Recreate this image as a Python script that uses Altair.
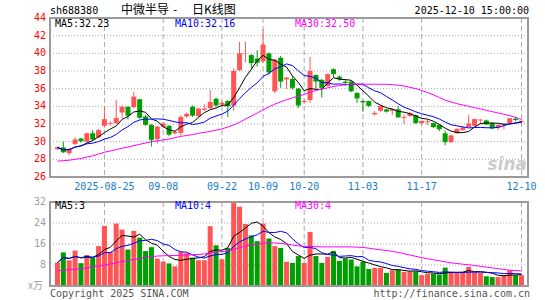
import altair as alt
import pandas as pd

# ---------------- data ----------------
dates = [
    "2025-08-13", "2025-08-14", "2025-08-15", "2025-08-18", "2025-08-19", "2025-08-20", "2025-08-21", "2025-08-22",
    "2025-08-25", "2025-08-26", "2025-08-27", "2025-08-28", "2025-08-29",
    "2025-09-01", "2025-09-02", "2025-09-03", "2025-09-04", "2025-09-05",
    "2025-09-08", "2025-09-09", "2025-09-10", "2025-09-11", "2025-09-12",
    "2025-09-15", "2025-09-16", "2025-09-17", "2025-09-18", "2025-09-19",
    "2025-09-22", "2025-09-23", "2025-09-24", "2025-09-25", "2025-09-26",
    "2025-09-29", "2025-09-30", "2025-10-09", "2025-10-10",
    "2025-10-13", "2025-10-14", "2025-10-15", "2025-10-16", "2025-10-17",
    "2025-10-20", "2025-10-21", "2025-10-22", "2025-10-23", "2025-10-24",
    "2025-10-27", "2025-10-28", "2025-10-29", "2025-10-30", "2025-10-31",
    "2025-11-03", "2025-11-04", "2025-11-05", "2025-11-06", "2025-11-07",
    "2025-11-10", "2025-11-11", "2025-11-12", "2025-11-13", "2025-11-14",
    "2025-11-17", "2025-11-18", "2025-11-19", "2025-11-20", "2025-11-21",
    "2025-11-24", "2025-11-25", "2025-11-26", "2025-11-27", "2025-11-28",
    "2025-12-01", "2025-12-02", "2025-12-03", "2025-12-04", "2025-12-05",
    "2025-12-08", "2025-12-09", "2025-12-10",
]

opens = [
    29.15, 29.35, 28.7, 29.75, 30.35, 30.0, 30.95, 30.5, 31.8, 32.0,
    32.1, 33.3, 33.95, 33.9, 34.8, 32.85, 31.9, 30.3, 31.7, 31.8,
    30.95, 31.0, 32.85, 33.95, 32.9, 33.6, 33.8, 34.85, 34.2, 34.6,
    34.1, 38.1, 39.95, 39.8, 39.4, 39.1, 40.0, 35.7, 39.5, 37.05,
    37.1, 36.0, 34.5, 34.7, 37.55, 37.0, 36.3, 38.2, 37.35, 36.8,
    36.8, 35.5, 34.6, 34.6, 33.1, 33.5, 33.65, 33.5, 33.65, 32.7,
    32.9, 33.0, 32.1, 32.2, 32.1, 31.9, 30.95, 29.95, 30.95, 31.3,
    31.65, 31.8, 32.4, 32.4, 32.1, 31.6, 31.9, 32.1, 32.6, 32.25,
]
highs = [
    29.45, 30.0, 29.3, 30.5, 30.45, 31.0, 31.3, 31.45, 34.05, 32.3,
    34.7, 34.1, 34.0, 35.65, 34.85, 33.0, 32.0, 31.8, 32.2, 31.9,
    31.3, 33.0, 33.3, 34.1, 33.85, 34.25, 35.85, 35.0, 34.6, 34.7,
    38.3, 41.3, 41.3, 39.9, 40.35, 42.7, 40.1, 39.4, 39.7, 37.3,
    37.4, 36.1, 34.8, 39.6, 37.6, 37.1, 37.7, 38.3, 37.5, 37.0,
    36.9, 35.6, 34.7, 34.65, 33.45, 34.1, 33.7, 33.75, 34.05, 33.1,
    33.35, 33.05, 32.4, 32.45, 32.15, 31.95, 31.25, 30.75, 31.5, 31.7,
    33.0, 32.6, 32.55, 32.5, 32.15, 31.95, 32.05, 32.7, 32.85, 32.4,
]
lows = [
    29.05, 28.7, 28.45, 29.6, 29.9, 29.9, 30.1, 30.4, 31.6, 31.8,
    32.0, 32.7, 32.5, 33.8, 32.6, 31.8, 29.45, 29.8, 31.5, 30.6,
    30.8, 30.7, 32.7, 32.8, 32.8, 33.5, 33.6, 33.95, 34.0, 32.8,
    33.5, 38.0, 39.0, 38.3, 38.5, 38.9, 37.6, 35.5, 36.1, 36.0,
    35.9, 33.8, 34.3, 34.4, 36.0, 35.0, 36.2, 37.3, 36.9, 36.3,
    35.6, 34.4, 33.4, 33.9, 32.95, 33.4, 33.3, 33.0, 32.7, 32.0,
    32.8, 32.0, 31.95, 31.9, 31.55, 31.2, 29.6, 29.85, 30.9, 31.2,
    31.6, 31.75, 32.0, 31.9, 31.4, 31.3, 31.4, 32.05, 32.3, 31.95,
]
closes = [
    29.35, 28.8, 29.15, 30.25, 30.05, 30.95, 30.25, 31.3, 32.55, 32.1,
    32.7, 33.95, 32.95, 35.1, 32.7, 31.9, 30.2, 31.7, 32.05, 30.8,
    31.1, 32.8, 33.15, 32.95, 33.75, 33.75, 34.5, 34.1, 34.4, 34.0,
    38.0, 40.0, 40.0, 38.9, 38.95, 41.0, 37.85, 39.3, 36.8, 37.25,
    36.1, 34.1, 34.6, 38.0, 36.8, 36.1, 37.65, 37.65, 37.1, 36.65,
    35.7, 34.9, 34.45, 34.05, 33.25, 34.05, 33.4, 33.7, 32.75, 32.8,
    33.2, 32.1, 32.35, 32.3, 31.65, 31.4, 29.95, 30.7, 31.45, 31.6,
    32.05, 32.55, 32.5, 31.95, 31.5, 31.9, 32.0, 32.65, 32.45, 32.35,
]
volumes = [
    8.9, 12.8, 9.8, 13.5, 8.7, 11.8, 10.8, 15.2, 22.9, 13.0,
    23.8, 21.5, 13.9, 21.0, 18.4, 13.3, 14.8, 10.4, 9.3, 8.6,
    7.5, 13.0, 12.5, 10.8, 9.8, 9.8, 22.8, 15.5, 10.2, 14.5,
    31.8, 30.2, 23.6, 19.3, 17.1, 23.8, 18.1, 15.2, 14.5, 9.2,
    8.8, 11.4, 8.8, 20.6, 11.4, 8.8, 11.1, 13.3, 9.6, 10.5,
    10.1, 7.5, 9.2, 6.5, 6.9, 6.9, 5.0, 6.0, 6.3, 5.4,
    5.6, 5.6, 4.1, 4.7, 4.7, 4.4, 7.0, 5.0, 5.0, 5.0,
    7.3, 5.0, 5.0, 3.7, 3.4, 3.4, 4.1, 6.0, 4.1, 4.1,
]
# 30-day averages as drawn (they need history before the window)
ma30_price = [
    27.8, 27.85, 27.9, 28.0, 28.1, 28.25, 28.4, 28.6, 28.8, 28.95,
    29.1, 29.25, 29.4, 29.55, 29.7, 29.85, 30.0, 30.1, 30.2, 30.3,
    30.45, 30.6, 30.7, 30.8, 30.95, 31.05, 31.15, 31.3, 31.45, 31.65,
    31.9, 32.2, 32.55, 32.9, 33.25, 33.6, 33.95, 34.25, 34.5, 34.75,
    34.95, 35.15, 35.35, 35.6, 35.8, 35.95, 36.1, 36.25, 36.35, 36.45,
    36.5, 36.5, 36.5, 36.5, 36.5, 36.5, 36.5, 36.45, 36.4, 36.3,
    36.15, 36.0, 35.8, 35.55, 35.3, 35.0, 34.7, 34.5, 34.3, 34.15,
    34.0, 33.85, 33.7, 33.55, 33.4, 33.25, 33.1, 32.95, 32.75, 32.5,
]
ma30_volume = [
    5.8, 6.0, 6.2, 6.4, 6.6, 6.9, 7.2, 7.6, 8.0, 8.4,
    8.9, 9.3, 9.7, 10.1, 10.5, 10.9, 11.2, 11.4, 11.5, 11.6,
    11.6, 11.7, 11.8, 11.9, 12.0, 12.2, 12.6, 12.9, 13.1, 13.4,
    13.9, 14.6, 15.2, 15.6, 15.9, 16.3, 16.5, 16.4, 16.2, 16.0,
    15.6, 15.3, 15.0, 15.0, 15.0, 14.9, 14.9, 14.9, 14.9, 14.9,
    14.9, 14.8, 14.7, 14.4, 14.1, 13.8, 13.5, 13.2, 12.8, 12.3,
    11.8, 11.3, 10.8, 10.4, 10.0, 9.6, 9.2, 8.8, 8.6, 8.3,
    8.1, 7.8, 7.5, 7.2, 6.9, 6.6, 6.3, 6.0, 5.9, 5.7,
]
tick_dates = ["2025-08-25", "2025-09-08", "2025-09-22", "2025-10-09",
              "2025-10-20", "2025-11-03", "2025-11-17", "2025-12-10"]
tick_labels = ["2025-08-25", "09-08", "09-22", "10-09", "10-20", "11-03", "11-17", "12-10"]
price_ticks = [26, 28, 30, 32, 34, 36, 38, 40, 42, 44]
volume_ticks = [8, 16, 24, 32]

# ---------------- tables ----------------
df = pd.DataFrame({
    "i": list(range(len(dates))), "date": dates,
    "open": opens, "high": highs, "low": lows, "close": closes,
    "vol": volumes, "ma30": ma30_price, "vma30": ma30_volume,
})
df["dir"] = ["up" if c >= o else "down" for o, c in zip(opens, closes)]
ticks_df = pd.DataFrame({"i": [dates.index(d) for d in tick_dates], "label": tick_labels})
pt_df = pd.DataFrame({"v": price_ticks})
vt_df = pd.DataFrame({"v": volume_ticks})
one = pd.DataFrame({"k": [0]})

# ---------------- layout constants ----------------
W, H = 478, 268
PH = 159          # price panel bottom
VT, VB = 184, 268  # volume panel top/bottom
RED, GREEN = "#ff5555", "#009e00"
MONO = "DejaVu Sans Mono"
CJK = "Noto Sans CJK SC"
GRID = "#aaaaaa"

xscale = alt.Scale(domain=[-2.5 / 6, 475.5 / 6], nice=False, zero=False)
X = alt.X("i:Q", scale=xscale, axis=None)
yp = alt.Scale(domain=[26, 44], range=[PH, 0], nice=False, zero=False)
yv = alt.Scale(domain=[0, 32], range=[VB, VT], nice=False, zero=False)
col = alt.Color("dir:N", scale=alt.Scale(domain=["up", "down"], range=[RED, GREEN]), legend=None)
base = alt.Chart(df)
srt = [alt.SortField("i")]

# ---------------- price panel ----------------
p_grid = alt.Chart(pt_df).mark_rule(color=GRID, strokeDash=[1, 2], strokeWidth=1).encode(
    y=alt.Y("v:Q", scale=yp, axis=None), x=alt.value(0), x2=alt.value(W))
p_lab = alt.Chart(pt_df).mark_text(align="right", baseline="middle", font=MONO, fontSize=10,
                                   color="#ff0000").encode(
    y=alt.Y("v:Q", scale=yp, axis=None), x=alt.value(-4), text="v:Q")
p_vl = alt.Chart(ticks_df).mark_rule(color=GRID, strokeDash=[5, 3], strokeWidth=1).encode(
    x=X, y=alt.value(0), y2=alt.value(PH))
wicks = base.mark_rule(strokeWidth=1).encode(
    x=X, y=alt.Y("low:Q", scale=yp, axis=None), y2="high:Q", color=col)
bodies = base.mark_bar(size=5).encode(
    x=X, y=alt.Y("open:Q", scale=yp, axis=None), y2="close:Q", color=col)
ma5 = base.transform_window(ma5="mean(close)", frame=[-4, 0], sort=srt).mark_line(
    color="#000000", strokeWidth=1).encode(x=X, y=alt.Y("ma5:Q", scale=yp, axis=None))
ma10 = base.transform_window(ma10="mean(close)", frame=[-9, 0], sort=srt).mark_line(
    color="#0000ff", strokeWidth=1).encode(x=X, y=alt.Y("ma10:Q", scale=yp, axis=None))
ma30 = base.mark_line(color="#ff00ff", strokeWidth=1).encode(
    x=X, y=alt.Y("ma30:Q", scale=yp, axis=None))
date_lab = alt.Chart(ticks_df).mark_text(baseline="middle", font=MONO, fontSize=10,
                                         color="#1a7cc8").encode(
    x=X, y=alt.value(169), text="label:N")
price_layer = alt.layer(p_grid, p_vl, wicks, bodies, ma5, ma10, ma30, p_lab, date_lab)

# ---------------- volume panel ----------------
v_grid = alt.Chart(vt_df).mark_rule(color=GRID, strokeDash=[1, 2], strokeWidth=1).encode(
    y=alt.Y("v:Q", scale=yv, axis=None), x=alt.value(0), x2=alt.value(W))
v_lab = alt.Chart(vt_df).mark_text(align="right", baseline="middle", font=MONO, fontSize=10,
                                   color="#a0a0a0").encode(
    y=alt.Y("v:Q", scale=yv, axis=None), x=alt.value(-4), text="v:Q")
v_vl = alt.Chart(ticks_df).mark_rule(color=GRID, strokeDash=[5, 3], strokeWidth=1).encode(
    x=X, y=alt.value(VT), y2=alt.value(VB))
vbars = base.mark_bar(size=5).encode(
    x=X, y=alt.Y("vol:Q", scale=yv, axis=None), y2=alt.datum(0), color=col)
vma5 = base.transform_window(vma5="mean(vol)", frame=[-4, 0], sort=srt).mark_line(
    color="#000000", strokeWidth=1).encode(x=X, y=alt.Y("vma5:Q", scale=yv, axis=None))
vma10 = base.transform_window(vma10="mean(vol)", frame=[-9, 0], sort=srt).mark_line(
    color="#0000ff", strokeWidth=1).encode(x=X, y=alt.Y("vma10:Q", scale=yv, axis=None))
vma30 = base.mark_line(color="#ff00ff", strokeWidth=1).encode(
    x=X, y=alt.Y("vma30:Q", scale=yv, axis=None))
vol_layer = alt.layer(v_grid, v_vl, vbars, vma5, vma10, vma30, v_lab)


# ---------------- frames and texts ----------------
def frame(y0, y1):
    return alt.Chart(one).mark_rect(fill="#ffffff", fillOpacity=0, stroke="#9a9a9a",
                                    strokeWidth=2).encode(
        x=alt.value(0), x2=alt.value(W), y=alt.value(y0), y2=alt.value(y1))


def label(txt, x, y, color, align="left", size=10, font=MONO, **kw):
    return alt.Chart(one).mark_text(text=txt, align=align, baseline="middle", font=font,
                                    fontSize=size, color=color, **kw).encode(
        x=alt.value(x), y=alt.value(y))


texts = [
    label("sh688380", 0, -7, "#000000"),
    label("中微半导", 71, -8, "#000000", size=12, font=CJK),
    label("-", 125, -8, "#000000", align="center", size=12, font=CJK),
    label("日K线图", 142, -8, "#000000", size=12, font=CJK),
    label("2025-12-10 15:00:00", 479, -7, "#000000", align="right"),
    label("MA5:32.23", 5, 5.5, "#000000"),
    label("MA10:32.16", 125, 5.5, "#0000ff"),
    label("MA30:32.50", 245, 5.5, "#ff00ff"),
    label("MA5:3", 5, 188, "#000000"),
    label("MA10:4", 125, 188, "#0000ff"),
    label("MA30:4", 245, 188, "#ff00ff"),
    label("x万", -7, 268, "#a0a0a0", align="right", size=10, font=CJK),
    label("Copyright 2025 SINA.COM", 0, 275.5, "#555555"),
    label("http://finance.sina.com.cn", 480, 275.5, "#555555", align="right"),
    label("sina", 477, 147, "#cccccc", align="right", size=17, font="DejaVu Sans",
          fontWeight="bold", fontStyle="italic"),
]

chart = alt.layer(
    price_layer, vol_layer, frame(0, PH), frame(VT, VB), *texts
).resolve_scale(y="independent").properties(
    width=W, height=H,
    padding={"left": 50, "top": 18, "right": 17, "bottom": 14},
    autosize=alt.AutoSizeParams(type="none"),
).configure_view(strokeWidth=0)

chart.save("out.html", embed_options={"renderer": "svg", "actions": False})
